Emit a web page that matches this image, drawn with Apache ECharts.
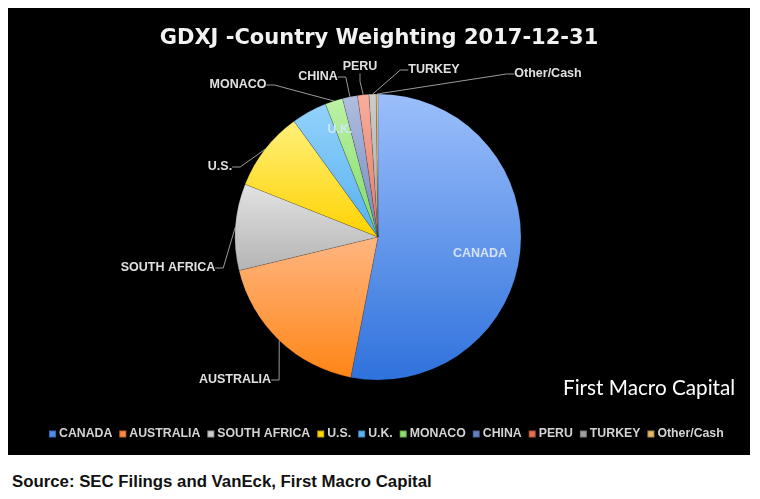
<!DOCTYPE html>
<html><head><meta charset="utf-8">
<script src="https://cdn.jsdelivr.net/npm/echarts@6/dist/echarts.min.js"></script>
<style>
html,body{margin:0;padding:0;background:#fff;width:760px;height:499px;overflow:hidden;}
#chart{position:absolute;left:8px;top:8px;width:742px;height:447px;background:#000;}
#src{position:absolute;left:12px;top:472px;font-family:"Liberation Sans",Arial,sans-serif;font-weight:bold;font-size:16.8px;color:#111;}
</style></head>
<body>
<div id="chart"></div>
<div id="src">Source: SEC Filings and VanEck, First Macro Capital</div>
<script>
const categories = ["CANADA","AUSTRALIA","SOUTH AFRICA","U.S.","U.K.","MONACO","CHINA","PERU","TURKEY","Other/Cash"];
const weights = [53.1, 18.2, 9.8, 9.0, 4.0, 2.0, 1.7, 1.3, 0.8, 0.2];
const topColors = ["#9cbffb","#ffb682","#e2e2e2","#fff07a","#93d2fb","#bdf2a6","#b0bedf","#f7ae9c","#cdcdcd","#f2cc88"];
const bottomColors = ["#2f72dc","#ff8516","#b4b4b4","#ffd200","#56b0f0","#80da66","#7288c0","#e57a62","#a6a6a6","#ddaa58"];
const legendColors = ["#4a8ef0","#ff8c3a","#cfcfcf","#ffd700","#5ab4f0","#8ee06a","#6480c0","#e8704f","#a0a0a0","#e8b860"];
const insideLabels = ["CANADA","U.K."];
// label anchor points (chart-local pixels), layout only
const labelSpots = {
  "CANADA":[472,246], "AUSTRALIA":[227,372], "SOUTH AFRICA":[160,260], "U.S.":[212,159],
  "U.K.":[332,122], "MONACO":[230,77], "CHINA":[310,69], "PERU":[352,59], "TURKEY":[426,62], "Other/Cash":[540,66]
};

const chart = echarts.init(document.getElementById('chart'), null, {renderer:'canvas'});
const data = categories.map((c,i)=>({
  name:c, value:weights[i],
  itemStyle:{color:new echarts.graphic.LinearGradient(0,0,0,1,[{offset:0,color:topColors[i]},{offset:1,color:bottomColors[i]}])},
  label: insideLabels.includes(c) ? {position:'inside', color: c==='CANADA' ? '#d6e2f6' : '#cfe6fa'} : {},
  labelLine: insideLabels.includes(c) ? {show:false} : {}
}));
chart.setOption({
  backgroundColor:'#000',
  animation:false,
  title:{text:'GDXJ -Country Weighting 2017-12-31', left:'center', top:15,
    textStyle:{color:'#f2f2f2', fontSize:21, fontWeight:'bold', fontFamily:'DejaVu Sans'}},
  legend:{data:categories.map((c,i)=>({name:c,itemStyle:{color:legendColors[i]}})), top:415, left:35, icon:'rect', itemWidth:7, itemHeight:7, itemGap:6,
    textStyle:{color:'#d4d4d4', fontSize:12.3, fontWeight:'bold', fontFamily:'Liberation Sans, Arial', padding:[0,0,0,-2]}},
  graphic:[{type:'text', left:555, top:370, style:{text:'First Macro Capital', fill:'#fff', font:'20.7px Lato, "Open Sans", sans-serif'}}],
  series:[{
    type:'pie', center:[370,229], radius:143, startAngle:90, clockwise:true,
    data:data,
    itemStyle:{borderColor:'rgba(0,0,0,0.25)', borderWidth:0.5},
    label:{color:'#e0e0e0', fontSize:12.5, fontWeight:'bold', fontFamily:'Liberation Sans, Arial'},
    labelLine:{length:12, length2:8, lineStyle:{color:'#9a9a9a', width:1}, smooth:false},
    labelLayout:function(p){
      const s = labelSpots[categories[p.dataIndex]];
      return {x:s[0], y:s[1], align:'center', verticalAlign:'middle'};
    }
  }]
});
</script>
</body></html>
